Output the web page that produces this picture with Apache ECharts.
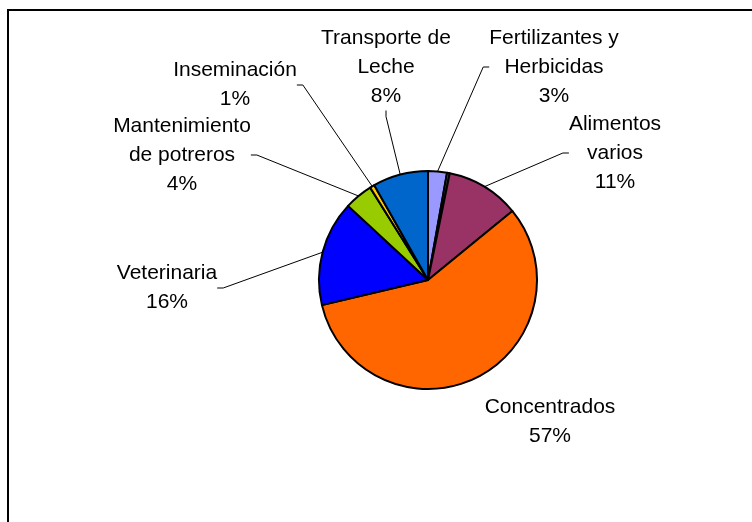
<!DOCTYPE html>
<html>
<head>
<meta charset="utf-8">
<script src="https://cdn.jsdelivr.net/npm/echarts@6/dist/echarts.min.js"></script>
<style>
    html, body { margin: 0; padding: 0; background: #fff; }
    #main { width: 752px; height: 522px; }
</style>
</head>
<body>
<div id="main"></div>
<script type="text/javascript">
    // datos (porcentajes, en el orden de las agujas del reloj desde arriba)
    var categorias = ['Fertilizantes y\nHerbicidas', '', 'Alimentos\nvarios', 'Concentrados',
        'Veterinaria', 'Mantenimiento\nde potreros', 'Inseminación', 'Transporte de\nLeche'];
    var valores = [2.8, 0.4, 10.9, 57.2, 15.6, 4.2, 0.7, 8.2];
    var colores = ['#9999FF', '#555566', '#993366', '#FF6600', '#0000FF', '#99CC00', '#FFCC00', '#0066CC'];

    // posicion de cada etiqueta (centro del bloque de texto)
    var etiquetaX = [554, 0, 615, 550, 167, 182, 235, 386];
    var etiquetaY = [67, 0, 153, 422, 288, 155, 85, 67];

    var datos = [];
    categorias.forEach(function (v, k) {
        var item = {
            name: v,
            value: valores[k],
            itemStyle: { color: colores[k] }
        };
        if (v === '') {
            item.label = { show: false };
            item.labelLine = { show: false };
        }
        if (v === 'Concentrados') {
            item.labelLine = { show: false };
        }
        datos.push(item);
    });

    var myChart = echarts.init(document.getElementById('main'));
    var option = {
        backgroundColor: '#fff',
        animation: false,
        graphic: [{
            type: 'rect',
            shape: { x: 8, y: 10, width: 800, height: 560 },
            style: { fill: 'none', stroke: '#000', lineWidth: 2 }
        }],
        series: [{
            type: 'pie',
            center: [428, 280],
            radius: 109,
            startAngle: 90,
            clockwise: true,
            avoidLabelOverlap: false,
            itemStyle: { borderColor: '#000', borderWidth: 2 },
            label: {
                show: true,
                color: '#000',
                fontFamily: 'Liberation Sans, Arial, sans-serif',
                fontSize: 21,
                lineHeight: 29,
                align: 'center',
                formatter: function (p) {
                    return p.name + '\n' + Math.round(p.value) + '%';
                }
            },
            labelLine: {
                show: true,
                length: 20,
                length2: 6,
                lineStyle: { color: '#000', width: 1 }
            },
            labelLayout: function (p) {
                return {
                    x: etiquetaX[p.dataIndex],
                    y: etiquetaY[p.dataIndex],
                    align: 'center',
                    verticalAlign: 'middle'
                };
            },
            data: datos
        }]
    };
    myChart.setOption(option);
</script>
</body>
</html>
